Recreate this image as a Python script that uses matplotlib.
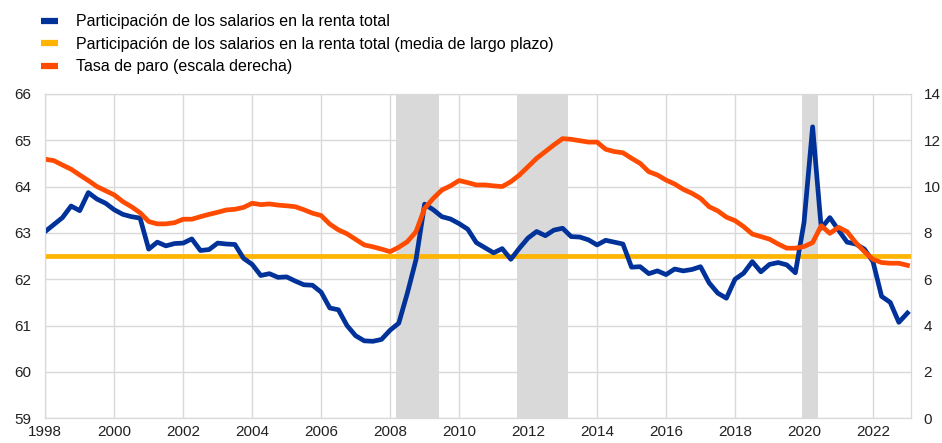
import matplotlib
matplotlib.use('Agg')
import matplotlib.pyplot as plt
import numpy as np

plt.rcParams['font.family'] = ['Liberation Sans', 'DejaVu Sans']

# quarterly data, 1998Q1 - 2023Q1
wage_share = [
    63.03, 63.18, 63.33, 63.58,
    63.48, 63.87, 63.73, 63.64,
    63.50, 63.40, 63.35, 63.32,
    62.65, 62.80, 62.72, 62.77,
    62.78, 62.87, 62.62, 62.64,
    62.78, 62.76, 62.75, 62.45,
    62.32, 62.08, 62.12, 62.04,
    62.05, 61.96, 61.88, 61.87,
    61.72, 61.38, 61.34, 61.00,
    60.78, 60.67, 60.66, 60.70,
    60.90, 61.05, 61.70, 62.42,
    63.62, 63.50, 63.35, 63.30,
    63.20, 63.08, 62.79, 62.68,
    62.57, 62.66, 62.43, 62.67,
    62.89, 63.03, 62.94, 63.06,
    63.10, 62.92, 62.91, 62.85,
    62.74, 62.84, 62.80, 62.76,
    62.26, 62.27, 62.12, 62.18,
    62.10, 62.22, 62.18, 62.21,
    62.27, 61.92, 61.70, 61.59,
    62.00, 62.13, 62.38, 62.16,
    62.32, 62.36, 62.31, 62.14,
    63.22, 65.29, 63.10, 63.33,
    63.06, 62.80, 62.76, 62.65,
    62.38, 61.63, 61.50, 61.07,
    61.27,
]
unemployment = [
    11.18, 11.12, 10.93, 10.75,
    10.50, 10.26, 10.00, 9.82,
    9.64, 9.35, 9.13, 8.87,
    8.49, 8.39, 8.39, 8.44,
    8.59, 8.59, 8.70, 8.80,
    8.89, 8.99, 9.02, 9.10,
    9.28, 9.22, 9.25, 9.20,
    9.17, 9.13, 9.00, 8.85,
    8.75, 8.38, 8.13, 7.96,
    7.72, 7.48, 7.40, 7.30,
    7.19, 7.38, 7.62, 8.05,
    9.06, 9.49, 9.85, 10.03,
    10.26, 10.17, 10.07, 10.07,
    10.03, 10.00, 10.21, 10.50,
    10.86, 11.22, 11.51, 11.80,
    12.07, 12.04, 11.98, 11.92,
    11.92, 11.61, 11.51, 11.46,
    11.22, 11.00, 10.64, 10.50,
    10.28, 10.11, 9.88, 9.71,
    9.49, 9.13, 8.95, 8.68,
    8.53, 8.27, 7.95, 7.84,
    7.73, 7.52, 7.34, 7.34,
    7.41, 7.58, 8.31, 7.98,
    8.24, 8.05, 7.58, 7.19,
    6.86, 6.72, 6.69, 6.69,
    6.60,
]
long_run_mean = 62.5
recessions = [(2008.17, 2009.42), (2011.67, 2013.17), (2019.94, 2020.42)]

labels = [
    'Participación de los salarios en la renta total',
    'Participación de los salarios en la renta total (media de largo plazo)',
    'Tasa de paro (escala derecha)',
]

BLUE = '#003299'
YELLOW = '#FFB400'
ORANGE = '#FF4B00'
GRID = '#d9d9d9'

x = 1998 + np.arange(len(wage_share)) / 4

fig = plt.figure(figsize=(9.42, 4.43), dpi=100)
ax = fig.add_axes([0.048, 0.056, 0.919, 0.732])
ax2 = ax.twinx()

for start, end in recessions:
    ax.axvspan(start, end, color=GRID, lw=0, zorder=1)

ax.axhline(long_run_mean, color=YELLOW, lw=3.4, zorder=3)
ax.plot(x, wage_share, color=BLUE, lw=3.4, zorder=4, solid_joinstyle='round')
ax2.plot(x, unemployment, color=ORANGE, lw=3.4, solid_joinstyle='round')

ax.set_xlim(1998, 2023.1)
ax.set_ylim(59, 66)
ax2.set_ylim(0, 14)
ax.set_xticks(range(1998, 2023, 2))
ax.set_yticks(range(59, 67))
ax2.set_yticks(range(0, 15, 2))

ax.grid(True, color=GRID, lw=1, zorder=0)
ax.set_axisbelow(True)
for a in (ax, ax2):
    for s in a.spines.values():
        s.set_color(GRID)
    a.tick_params(length=0, labelsize=11, colors='#222222')
ax.tick_params(axis='y', pad=10)
ax.tick_params(axis='x', pad=5)
ax2.tick_params(axis='y', pad=9)

handles = [
    plt.Line2D([], [], color=c, lw=4.5, solid_capstyle='butt')
    for c in (BLUE, YELLOW, ORANGE)
]
fig.legend(handles, labels, loc='upper left', bbox_to_anchor=(0.032, 0.993),
           frameon=False, fontsize=11.5, handlelength=1.05, handletextpad=1.1,
           labelspacing=0.47, borderaxespad=0.3)

fig.savefig('out.png', dpi=100)
